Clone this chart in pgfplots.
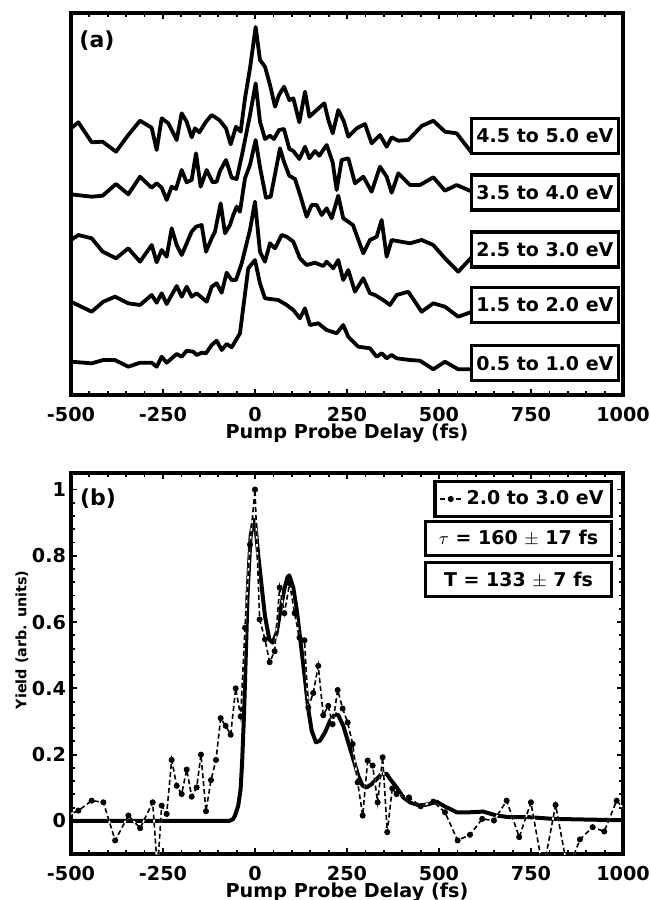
\documentclass[border=0pt]{standalone}
\usepackage{fontspec}
\setmainfont{DejaVu Sans}
\usepackage{pgfplots}
\usepackage{pgfplotstable}
\pgfplotsset{compat=1.18}

% Panel (a): traces, y in arbitrary offset units
\pgfplotstableread{
x y
-500 266.7
-480.1 272.7
-443.8 252.7
-414.0 253.3
-377.7 243.3
-344.2 260.0
-312.5 274.3
-280.8 267.3
-267.2 245.0
-253.6 276.7
-235.5 271.7
-212.9 255.0
-199.3 281.7
-185.7 273.3
-172.1 257.7
-163.1 266.7
-151.3 262.7
-133.2 273.3
-117.8 280.0
-96.9 275.0
-78.8 266.7
-66.1 250.7
-51.7 268.3
-39.0 263.3
-27.2 296.7
-13.6 326.7
1.8 368.0
13.6 335.0
27.2 328.3
40.8 310.0
54.4 288.3
65.2 300.0
78.8 308.3
93.3 295.0
104.2 296.7
120.5 272.7
135.9 303.3
147.7 278.3
167.6 285.0
188.4 291.7
199.3 275.0
211.1 261.7
226.5 285.0
241.8 273.3
253.6 258.3
276.3 266.7
298.9 271.0
317.0 251.7
339.7 260.0
357.8 248.3
371.4 257.7
389.5 254.3
416.7 255.0
452.9 269.0
484.6 274.3
516.3 263.3
548.0 261.7
590.0 241.7
}\traceA

\pgfplotstableread{
x y
-500 200.7
-443.8 198.3
-414.0 199.3
-377.7 211.0
-344.2 200.7
-312.5 218.3
-280.8 207.3
-267.2 211.7
-253.6 207.3
-240.0 195.0
-226.5 208.3
-214.7 206.0
-199.3 225.0
-185.7 212.7
-172.1 215.0
-160.3 241.7
-147.7 208.3
-131.4 225.0
-115.1 212.7
-104.2 213.3
-95.1 224.0
-78.8 235.0
-63.4 217.3
-49.8 216.0
-33.5 243.3
-13.6 280.0
1.8 311.7
13.6 273.3
27.2 256.0
40.8 259.3
51.6 256.0
65.2 265.0
78.8 266.0
93.3 246.0
104.2 244.0
120.5 236.0
135.9 248.3
147.7 236.7
163.1 244.0
174.8 239.3
194.8 250.0
211.1 232.7
221.9 205.0
235.5 235.0
253.6 236.7
271.7 211.7
294.4 218.3
317.0 203.3
339.7 228.3
357.8 218.3
371.4 202.3
389.5 221.7
421.2 210.0
448.4 210.0
484.6 217.7
516.3 204.3
548.0 210.0
590.0 203.3
}\traceB

\pgfplotstableread{
x y
-500 155.0
-480.2 160.0
-443.8 156.7
-413.9 143.3
-377.7 136.7
-344.3 146.7
-312.5 133.3
-280.7 150.0
-267.2 132.7
-253.6 145.0
-240.0 138.3
-226.4 166.7
-212.8 150.0
-199.2 140.0
-172.1 163.3
-160.4 168.3
-144.9 170.0
-133.2 143.3
-117.7 156.7
-108.8 163.3
-93.3 191.7
-81.6 161.7
-68.0 170.0
-59.0 180.0
-49.8 188.3
-40.8 183.3
-27.2 216.7
-13.7 230.0
1.8 255.0
13.5 228.0
29.8 197.3
42.6 198.3
67.9 246.7
78.7 233.3
93.1 219.3
108.6 216.0
124.1 198.3
140.4 178.3
154.0 190.0
167.6 190.0
181.1 180.0
194.7 186.7
208.3 176.7
226.3 199.3
239.8 176.7
266.2 170.0
294.2 141.7
312.4 155.0
330.6 158.3
344.2 175.0
357.8 138.3
371.3 155.0
421.1 151.7
452.9 155.0
484.4 150.0
516.2 136.7
552.3 123.3
590.0 138.3
}\traceC

\pgfplotstableread{
x y
-500 93.3
-443.8 83.3
-412.2 93.3
-380.5 98.3
-344.3 91.7
-312.5 90.0
-280.7 100.0
-267.2 92.3
-253.6 101.7
-240.0 91.0
-212.8 109.0
-199.2 98.3
-185.6 108.3
-172.1 98.3
-158.5 101.7
-131.3 93.3
-117.7 108.3
-104.1 111.7
-90.6 102.3
-77.0 122.3
-63.4 115.0
-51.7 115.0
-36.2 131.7
-13.7 165.0
-0.1 193.3
13.5 143.3
27.1 133.3
40.7 151.7
54.3 146.7
72.5 160.0
86.1 158.3
104.0 153.3
122.2 136.7
140.4 130.0
162.9 132.3
185.5 129.0
194.7 133.3
212.7 126.7
226.3 135.0
239.8 115.0
253.4 125.0
271.6 103.3
294.2 116.7
312.4 101.7
326.0 100.0
348.5 95.0
366.7 90.0
384.9 100.0
416.4 103.3
452.9 83.3
484.4 91.7
516.2 88.3
552.3 78.3
590.0 83.3
}\traceD

\pgfplotstableread{
x y
-500 33.3
-443.8 31.7
-412.2 35.0
-380.5 35.0
-344.3 28.3
-312.5 32.3
-280.7 32.3
-267.2 28.3
-253.6 38.3
-240.0 32.3
-212.8 41.0
-199.2 38.3
-185.6 44.3
-167.7 43.3
-158.5 40.0
-144.9 42.3
-133.2 41.7
-117.7 50.0
-104.1 54.3
-90.6 45.0
-77.0 51.0
-63.4 47.7
-40.8 61.7
-18.3 126.7
-0.1 135.0
13.5 111.7
27.1 96.7
63.2 95.0
86.1 90.0
104.0 85.0
122.2 76.7
135.8 86.7
149.4 70.0
171.9 71.7
194.7 65.0
221.9 61.7
239.8 70.0
253.4 58.3
280.6 48.3
312.4 46.7
330.6 38.3
344.2 41.7
357.8 36.7
371.3 40.0
384.9 36.7
421.1 35.0
448.3 34.3
484.4 25.7
516.2 33.3
552.3 25.7
590.0 25.7
}\traceE

% Panel (b): data 2.0 to 3.0 eV
\pgfplotstableread{
x y
-513 0.015
-480 0.031
-444 0.061
-412 0.056
-380 -0.059
-344 0.016
-312 -0.022
-278 0.056
-265 -0.15
-253.6 0.046
-240 0.021
-226.4 0.184
-212.8 0.106
-199.2 0.081
-185.6 0.155
-172 0.073
-158.5 0.101
-146.8 0.200
-133.2 0.029
-119.6 0.123
-106 0.184
-93.3 0.310
-79.7 0.287
-66.1 0.260
-52.5 0.400
-38.9 0.315
-27.2 0.583
-13.6 0.834
0 1.0
12.6 0.608
27.1 0.548
39.8 0.479
53.4 0.512
67 0.704
80 0.627
94 0.717
107.5 0.627
121 0.553
134.5 0.545
144.8 0.342
158.3 0.386
171.9 0.468
185.5 0.319
199.1 0.347
211.0 0.292
224.6 0.395
238.2 0.339
251.8 0.297
265.4 0.232
279.0 0.116
292.6 0.016
306.2 0.182
319.7 0.167
333.3 0.056
346.9 0.192
359.4 -0.034
373.0 0.098
384.8 0.081
418.3 0.071
450.1 0.044
484.4 0.058
516.2 0.026
550.7 -0.059
584.1 -0.042
617.5 0.006
649.3 0.001
683.8 0.061
718.0 -0.049
749.8 0.056
783 -0.15
816.9 0.048
850 -0.15
883 -0.056
917.4 -0.019
949 -0.032
982.7 0.061
1016 0.02
}\dataB

% Panel (b): fit
\pgfplotstableread{
x y
-500 0
-70 0
-60 0.005
-54.4 0.016
-45.5 0.046
-39 0.096
-34.6 0.187
-30 0.317
-25.3 0.488
-20 0.689
-12 0.859
-4 0.91
1 0.895
9 0.80
18 0.709
27.1 0.618
38.9 0.548
48 0.538
58.9 0.568
67.9 0.628
79.6 0.699
88 0.735
93.1 0.741
104 0.704
113.2 0.639
124 0.538
135.8 0.428
144.8 0.337
154 0.272
165.7 0.237
176.5 0.242
190.1 0.267
203.7 0.302
217.3 0.322
226.3 0.319
239.9 0.287
253.4 0.237
267 0.187
280.6 0.136
292.5 0.106
303.4 0.101
317 0.111
330.6 0.126
344.2 0.142
357.8 0.142
366.7 0.127
384.9 0.101
402.9 0.071
421.1 0.056
448.3 0.046
470 0.050
493.5 0.058
511.6 0.046
548 0.026
584.1 0.026
620.3 0.028
656.7 0.016
692.8 0.011
747.1 0.011
810.5 0.006
901 0.004
1000 0.002
}\fitB

\newcommand{\lblfont}{\fontsize{9.6}{10}\selectfont\bfseries}

\tikzset{
  ebox/.style={draw=black, line width=1.6pt, fill=white, minimum width=73.5pt, minimum height=17.5pt, inner sep=0pt, anchor=east, font=\fontsize{9.5}{11}\selectfont\bfseries},
  pbox/.style={draw=black, line width=1.6pt, fill=white, minimum width=93pt, minimum height=17pt, inner sep=0pt, anchor=north east, font=\fontsize{9.5}{11}\selectfont\bfseries},
}

\begin{document}
\begin{tikzpicture}
\useasboundingbox (-35.5pt,6.5pt) rectangle (290pt,-443.5pt);
\pgfplotsset{
  common/.style={
    width=276pt, scale only axis,
    xmin=-500, xmax=1000,
    xtick={-500,-250,0,250,500,750,1000},
    minor x tick num=4,
    tick align=inside,
    xtick pos=both, ytick pos=both,
    major tick length=3.2pt, minor tick length=2pt,
    every tick/.style={black, line width=0.9pt},
    axis line style={line width=1.6pt},
    tick label style={font=\lblfont},
    /pgf/number format/assume math mode=true,
    /pgf/number format/1000 sep={},
    xticklabel style={yshift=-2.5pt},
    xlabel={Pump Probe Delay (fs)},
    xlabel style={font=\lblfont, at={(axis description cs:0.5,0)}, anchor=center, yshift=-19pt},
  },
  trace/.style={black, line width=1.9pt, line join=round, no markers},
}

% ---------------- Panel (a) ----------------
\begin{axis}[common,
  at={(0pt,0pt)}, anchor=north west,
  height=191pt,
  ymin=0, ymax=382,
  ytick=\empty, minor y tick num=0,
]
\addplot[trace] table[x=x,y=y] {\traceA};
\addplot[trace] table[x=x,y=y] {\traceB};
\addplot[trace] table[x=x,y=y] {\traceC};
\addplot[trace] table[x=x,y=y] {\traceD};
\addplot[trace] table[x=x,y=y] {\traceE};
\node[ebox] at (rel axis cs:0.9946,0.679) {4.5 to 5.0 eV};
\node[ebox] at (rel axis cs:0.9946,0.530) {3.5 to 4.0 eV};
\node[ebox] at (rel axis cs:0.9946,0.381) {2.5 to 3.0 eV};
\node[ebox] at (rel axis cs:0.9946,0.236) {1.5 to 2.0 eV};
\node[ebox] at (rel axis cs:0.9946,0.083) {0.5 to 1.0 eV};
\node[font=\fontsize{11}{12}\selectfont\bfseries] at (rel axis cs:0.047,0.929) {(a)};
\end{axis}

% ---------------- Panel (b) ----------------
\begin{axis}[common,
  at={(0pt,-230pt)}, anchor=north west,
  height=190.5pt,
  ymin=-0.1, ymax=1.05,
  ytick={0,0.2,0.4,0.6,0.8,1},
  minor y tick num=4,
  yticklabel style={xshift=1pt},
  ylabel={Yield (arb. units)},
  ylabel style={font=\fontsize{7.2}{8}\selectfont\bfseries, at={(axis description cs:-0.089,0.562)}, anchor=center},
  legend style={at={(rel axis cs:0.982,0.982)}, anchor=north east, draw=black, line width=1.6pt, fill=white,
    font=\fontsize{9.5}{11}\selectfont\bfseries, inner xsep=2pt, inner ysep=2.5pt,
    /tikz/every even column/.append style={column sep=3pt}},
  legend cell align=left,
  legend image code/.code={\draw[mark repeat=2,mark phase=2,#1] plot coordinates {(0pt,0pt) (5.5pt,0pt) (11pt,0pt)};},
]
\addplot[black, line width=2pt, line join=round, no markers, forget plot] table[x=x,y=y] {\fitB};
\addplot[white, line width=0.8pt, no markers, forget plot] table[x=x,y=y] {\dataB};
\addplot[black, line width=0.8pt, dash pattern=on 2.5pt off 1.5pt, mark=*, mark size=1.3pt, mark options={solid, line width=0.4pt}] table[x=x,y=y] {\dataB};
\addlegendentry{2.0 to 3.0 eV}
\node[pbox] at (rel axis cs:0.982,0.877) {$\tau$ = 160 $\pm$ 17 fs};
\node[pbox] at (rel axis cs:0.982,0.769) {T = 133 $\pm$ 7 fs};
\node[font=\fontsize{11}{12}\selectfont\bfseries] at (rel axis cs:0.049,0.932) {(b)};
\end{axis}
\end{tikzpicture}
\end{document}
